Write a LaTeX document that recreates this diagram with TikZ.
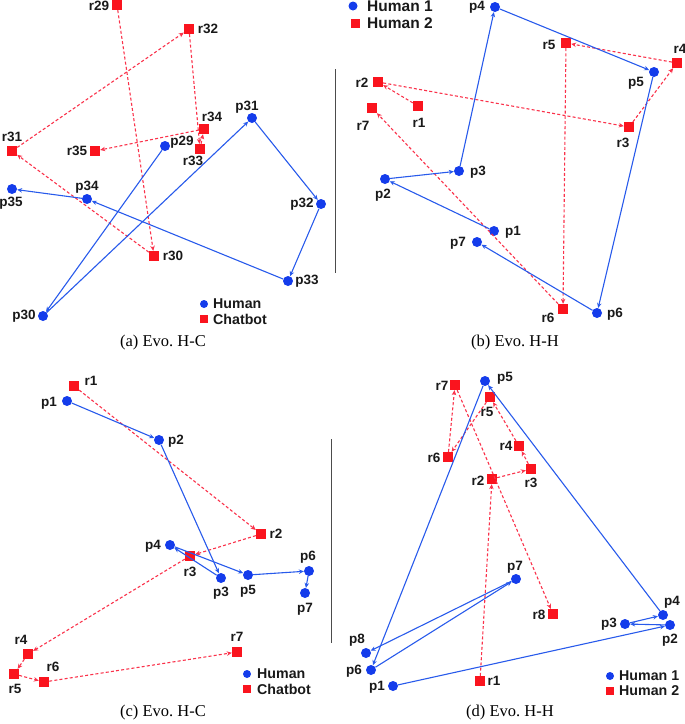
\documentclass[tikz,border=0pt]{standalone}
\usepackage{fontspec}
\setmainfont{Liberation Serif}
\setsansfont{Liberation Sans}
\usetikzlibrary{arrows.meta}
\definecolor{hblue}{RGB}{20,60,235}
\definecolor{hbline}{RGB}{40,90,235}
\definecolor{cred}{RGB}{250,20,30}
\definecolor{crline}{RGB}{250,50,75}
\tikzset{
  hum/.style={circle,fill=hblue,inner sep=0pt,minimum size=10pt},
  bot/.style={rectangle,fill=cred,inner sep=0pt,minimum size=10pt},
  lbl/.style={font=\sffamily\bfseries\fontsize{13.5}{14}\selectfont,inner sep=0pt,text=black!90},
  biglbl/.style={lbl,font=\sffamily\bfseries\fontsize{15.5}{16}\selectfont},
  captxt/.style={font=\rmfamily\fontsize{16.5}{18}\selectfont,inner sep=0pt},
  hedge/.style={draw=hbline,line width=1.1pt,-{Stealth[length=5pt,width=4.5pt]}},
  redge/.style={draw=crline,line width=1.1pt,dash pattern=on 3pt off 2.2pt,-{Stealth[length=5pt,width=4.5pt]}},
  divider/.style={draw=black!70,line width=0.9pt}
}
\begin{document}
\frenchspacing
\begin{tikzpicture}[x=1pt,y=-1pt]
\useasboundingbox (0,0) rectangle (685,724);
% ---------------- panel (a)
\node[bot] (a-r29) at (117,5) {};   \node[lbl] (a-r29l) at (99,6) {r29};
\node[bot] (a-r30) at (154,256) {}; \node[lbl] (a-r30l) at (173,256) {r30};
\node[bot] (a-r31) at (12,151) {};  \node[lbl] (a-r31l) at (12,137) {r31};
\node[bot] (a-r32) at (189,29) {};  \node[lbl] (a-r32l) at (208,29) {r32};
\node[bot] (a-r33) at (200,149) {}; \node[lbl] (a-r33l) at (193,161) {r33};
\node[bot] (a-r34) at (204,129) {}; \node[lbl] (a-r34l) at (212,117) {r34};
\node[bot] (a-r35) at (95,151) {};  \node[lbl] (a-r35l) at (77,151) {r35};
\node[hum] (a-p29) at (165,146) {}; \node[lbl] (a-p29l) at (182,142) {p29};
\node[hum] (a-p30) at (43,316) {};  \node[lbl] (a-p30l) at (24,316) {p30};
\node[hum] (a-p31) at (252,118) {}; \node[lbl] (a-p31l) at (247,107) {p31};
\node[hum] (a-p32) at (321,204) {}; \node[lbl] (a-p32l) at (302,204) {p32};
\node[hum] (a-p33) at (288,281) {}; \node[lbl] (a-p33l) at (307,281) {p33};
\node[hum] (a-p34) at (87,199) {};  \node[lbl] (a-p34l) at (87,187) {p34};
\node[hum] (a-p35) at (12,189) {};  \node[lbl] (a-p35l) at (11,203) {p35};
\foreach \s/\t in {r29/r30,r30/r31,r31/r32,r32/r33,r33/r34,r34/r35}
  \draw[redge] (a-\s) -- (a-\t);
\foreach \s/\t in {p29/p30,p30/p31,p31/p32,p32/p33,p33/p34,p34/p35}
  \draw[hedge] (a-\s) -- (a-\t);
\node[hum,minimum size=8pt] (a-lh) at (204,304) {};
\node[lbl,anchor=west,font=\sffamily\bfseries\fontsize{14.2}{15}\selectfont] (a-lht) at (213,304) {Human};
\node[bot,minimum size=8pt] (a-lc) at (204,319) {};
\node[lbl,anchor=west,font=\sffamily\bfseries\fontsize{14.2}{15}\selectfont] (a-lct) at (213,319) {Chatbot};
\node[captxt] (a-cap) at (163,343) {(a) Evo. H-C};
% divider top
\coordinate (d1a) at (335,69); \coordinate (d1b) at (335,273);
\draw[divider] (d1a) -- (d1b);
% ---------------- panel (b)
\node[hum,minimum size=9pt] (b-lh) at (353,6) {};
\node[biglbl,anchor=west] (b-lht) at (367,6) {Human 1};
\node[bot,minimum size=9pt] (b-lc) at (355,23) {};
\node[biglbl,anchor=west] (b-lct) at (367,23) {Human 2};
\node[hum] (b-p1) at (494,231) {}; \node[lbl] (b-p1l) at (513,232) {p1};
\node[hum] (b-p2) at (385,179) {}; \node[lbl] (b-p2l) at (383,195) {p2};
\node[hum] (b-p3) at (459,171) {}; \node[lbl] (b-p3l) at (478,172) {p3};
\node[hum] (b-p4) at (495,7) {};   \node[lbl] (b-p4l) at (477,7) {p4};
\node[hum] (b-p5) at (654,72) {};  \node[lbl] (b-p5l) at (636,83) {p5};
\node[hum] (b-p6) at (597,313) {}; \node[lbl] (b-p6l) at (615,314) {p6};
\node[hum] (b-p7) at (477,242) {}; \node[lbl] (b-p7l) at (458,243) {p7};
\node[bot] (b-r1) at (418,106) {}; \node[lbl] (b-r1l) at (419,123) {r1};
\node[bot] (b-r2) at (378,82) {};  \node[lbl] (b-r2l) at (362,83) {r2};
\node[bot] (b-r3) at (629,127) {}; \node[lbl] (b-r3l) at (623,143) {r3};
\node[bot] (b-r4) at (677,63) {};  \node[lbl] (b-r4l) at (680,49) {r4};
\node[bot] (b-r5) at (566,43) {};  \node[lbl] (b-r5l) at (549,45) {r5};
\node[bot] (b-r6) at (563,309) {}; \node[lbl] (b-r6l) at (548,318) {r6};
\node[bot] (b-r7) at (372,108) {}; \node[lbl] (b-r7l) at (363,126) {r7};
\foreach \s/\t in {r1/r2,r2/r3,r3/r4,r4/r5,r5/r6,r6/r7}
  \draw[redge] (b-\s) -- (b-\t);
\foreach \s/\t in {p1/p2,p2/p3,p3/p4,p4/p5,p5/p6,p6/p7}
  \draw[hedge] (b-\s) -- (b-\t);
\node[captxt] (b-cap) at (515,343) {(b) Evo. H-H};
% ---------------- panel (c)
\node[bot] (c-r1) at (74,386) {};  \node[lbl] (c-r1l) at (91,381) {r1};
\node[bot] (c-r2) at (261,534) {}; \node[lbl] (c-r2l) at (276,534) {r2};
\node[bot] (c-r3) at (190,556) {}; \node[lbl] (c-r3l) at (190,572) {r3};
\node[bot] (c-r4) at (28,654) {};  \node[lbl] (c-r4l) at (21,640) {r4};
\node[bot] (c-r5) at (14,674) {};  \node[lbl] (c-r5l) at (15,689) {r5};
\node[bot] (c-r6) at (44,682) {};  \node[lbl] (c-r6l) at (53,667) {r6};
\node[bot] (c-r7) at (237,652) {}; \node[lbl] (c-r7l) at (237,637) {r7};
\node[hum] (c-p1) at (67,401) {};  \node[lbl] (c-p1l) at (49,403) {p1};
\node[hum] (c-p2) at (159,440) {}; \node[lbl] (c-p2l) at (176,441) {p2};
\node[hum] (c-p3) at (221,578) {}; \node[lbl] (c-p3l) at (221,593) {p3};
\node[hum] (c-p4) at (170,545) {}; \node[lbl] (c-p4l) at (153,546) {p4};
\node[hum] (c-p5) at (248,575) {}; \node[lbl] (c-p5l) at (248,591) {p5};
\node[hum] (c-p6) at (309,571) {}; \node[lbl] (c-p6l) at (308,557) {p6};
\node[hum] (c-p7) at (305,593) {}; \node[lbl] (c-p7l) at (305,609) {p7};
\foreach \s/\t in {r1/r2,r2/r3,r3/r4,r4/r5,r5/r6,r6/r7}
  \draw[redge] (c-\s) -- (c-\t);
\foreach \s/\t in {p1/p2,p2/p3,p3/p4,p4/p5,p5/p6,p6/p7}
  \draw[hedge] (c-\s) -- (c-\t);
\node[hum,minimum size=8pt] (c-lh) at (247,674) {};
\node[lbl,anchor=west,font=\sffamily\bfseries\fontsize{14.2}{15}\selectfont] (c-lht) at (257,674) {Human};
\node[bot,minimum size=8pt] (c-lc) at (247,689) {};
\node[lbl,anchor=west,font=\sffamily\bfseries\fontsize{14.2}{15}\selectfont] (c-lct) at (257,689) {Chatbot};
\node[captxt] (c-cap) at (163,713) {(c) Evo. H-C};
% divider bottom
\coordinate (d2a) at (331,439); \coordinate (d2b) at (331,643);
\draw[divider] (d2a) -- (d2b);
% ---------------- panel (d)
\node[hum] (d-p1) at (393,686) {}; \node[lbl] (d-p1l) at (377,687) {p1};
\node[hum] (d-p2) at (670,625) {}; \node[lbl] (d-p2l) at (670,640) {p2};
\node[hum] (d-p3) at (625,624) {}; \node[lbl] (d-p3l) at (609,624) {p3};
\node[hum] (d-p4) at (663,615) {}; \node[lbl] (d-p4l) at (672,602) {p4};
\node[hum] (d-p5) at (485,381) {}; \node[lbl] (d-p5l) at (505,378) {p5};
\node[hum] (d-p6) at (371,670) {}; \node[lbl] (d-p6l) at (354,671) {p6};
\node[hum] (d-p7) at (516,579) {}; \node[lbl] (d-p7l) at (515,567) {p7};
\node[hum] (d-p8) at (366,653) {}; \node[lbl] (d-p8l) at (357,640) {p8};
\node[bot] (d-r1) at (480,681) {}; \node[lbl] (d-r1l) at (494,681) {r1};
\node[bot] (d-r2) at (492,479) {}; \node[lbl] (d-r2l) at (478,481) {r2};
\node[bot] (d-r3) at (531,469) {}; \node[lbl] (d-r3l) at (531,483) {r3};
\node[bot] (d-r4) at (519,446) {}; \node[lbl] (d-r4l) at (506,446) {r4};
\node[bot] (d-r5) at (490,397) {}; \node[lbl] (d-r5l) at (487,412) {r5};
\node[bot] (d-r6) at (448,457) {}; \node[lbl] (d-r6l) at (434,458) {r6};
\node[bot] (d-r7) at (455,385) {}; \node[lbl] (d-r7l) at (442,386) {r7};
\node[bot] (d-r8) at (553,614) {}; \node[lbl] (d-r8l) at (539,615) {r8};
\foreach \s/\t in {r1/r2,r2/r3,r3/r4,r4/r5,r5/r6,r6/r7,r7/r8}
  \draw[redge] (d-\s) -- (d-\t);
\foreach \s/\t in {p1/p2,p2/p3,p3/p4,p4/p5,p5/p6,p6/p7,p7/p8}
  \draw[hedge] (d-\s) -- (d-\t);
\node[hum,minimum size=8pt] (d-lh) at (610,676) {};
\node[lbl,anchor=west,font=\sffamily\bfseries\fontsize{14.2}{15}\selectfont] (d-lht) at (619,676) {Human 1};
\node[bot,minimum size=8pt] (d-lc) at (610,691) {};
\node[lbl,anchor=west,font=\sffamily\bfseries\fontsize{14.2}{15}\selectfont] (d-lct) at (619,691) {Human 2};
\node[captxt] (d-cap) at (510,713) {(d) Evo. H-H};
\end{tikzpicture}
\end{document}
